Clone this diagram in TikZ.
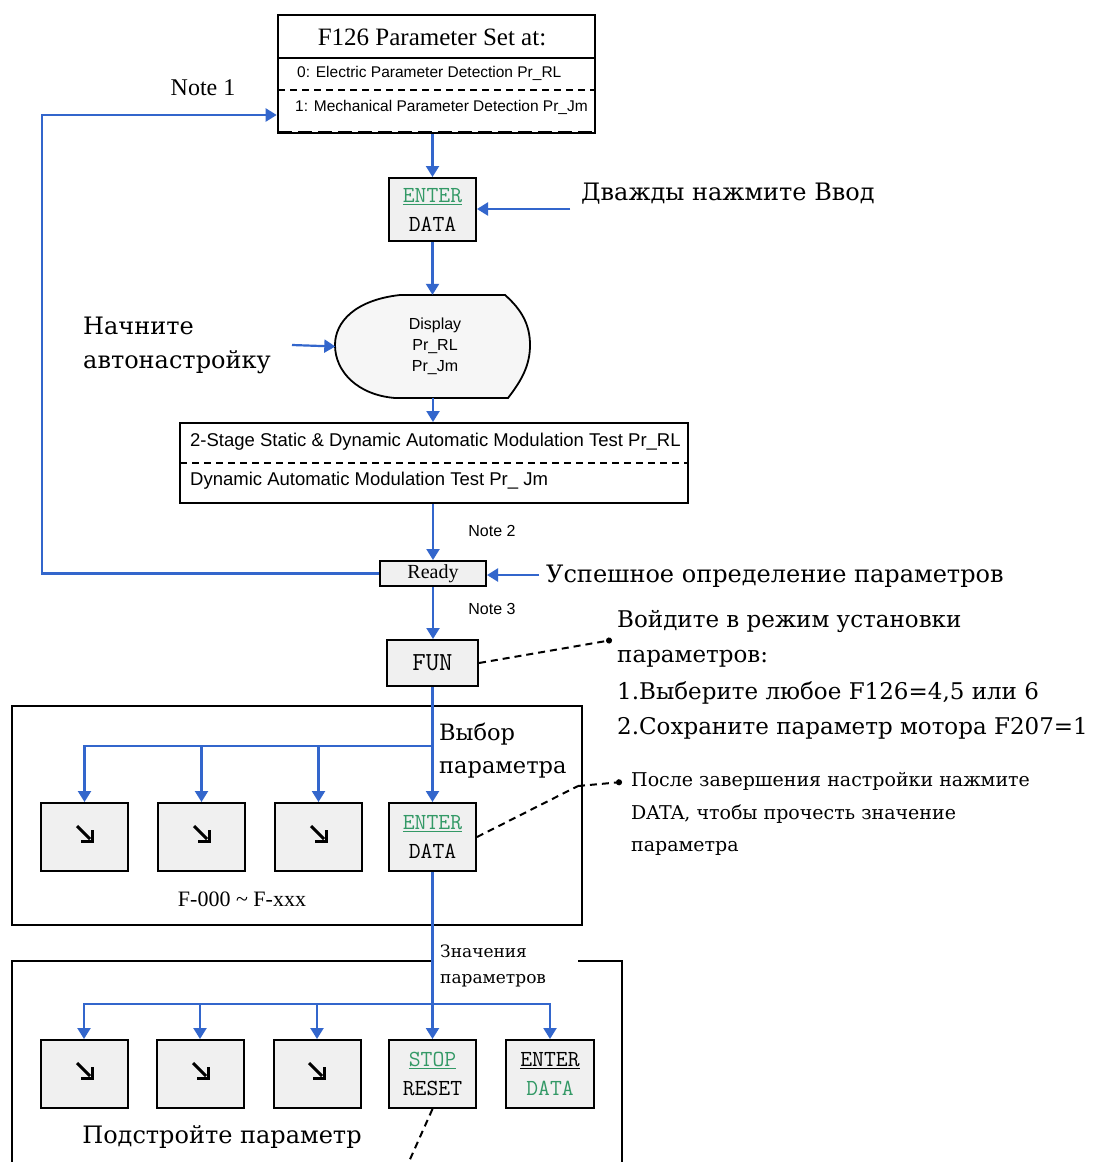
\documentclass[tikz,border=0pt]{standalone}
\usepackage{fontspec}
\setmainfont{Liberation Serif}
\newfontfamily\ru{DejaVu Serif}
\newfontfamily\sans{Liberation Sans}
\usetikzlibrary{arrows.meta}
\definecolor{keygray}{RGB}{240,240,240}
\definecolor{myblue}{RGB}{51,102,204}
\definecolor{keygreen}{RGB}{51,153,102}
\newcommand{\mykey}{\ttfamily\addfontfeature{LetterSpace=8}\fontsize{23}{29}\selectfont}
\begin{document}
\begin{tikzpicture}[x=1pt,y=-1pt,
  arr/.style={draw=myblue, line width=2.2pt, -{Triangle[width=13pt,length=11pt]}},
  keybox/.style={draw, line width=2pt, fill=keygray, inner sep=0pt, minimum width=87pt, minimum height=68pt, align=center, font=\mykey},
  dashlink/.style={draw, dash pattern=on 7pt off 5pt, line width=2pt, -{Circle[length=6pt]}},
  dline/.style={draw, dash pattern=on 7pt off 5pt, line width=2pt},
  lbl/.style={inner sep=0pt},
  dnarrow/.pic={\draw[line width=3pt] (-8,-8) -- (5,5); \draw[line width=3pt, line join=miter] (7,-4) -- (7,7) -- (-4,7);}
]
\useasboundingbox (0,0) rectangle (1106,1162);
\fill[white] (0,0) rectangle (1106,1162);

% top box
\node[draw, line width=2.6pt, minimum width=317pt, minimum height=118pt, inner sep=0pt] (f126) at (436.5,74) {};
\draw[line width=2pt] (278,58) -- (595,58);
\draw[dline] (278,90) -- (595,90);
\draw[dash pattern=on 14pt off 6pt, line width=3pt] (278,132) -- (595,132);
\node[lbl] (t0) at (432,37) {\fontsize{25}{25}\selectfont F126 Parameter Set at:};
\node[lbl, anchor=west] (t1) at (297,73) {\sans\fontsize{15.5}{16}\selectfont 0: Electric Parameter Detection Pr\_RL};
\node[lbl, anchor=west] (t2) at (295,107) {\sans\fontsize{15.5}{16}\selectfont 1: Mechanical Parameter Detection Pr\_Jm};
\node[lbl] (n1) at (203,88) {\fontsize{24}{24}\selectfont Note 1};

% ENTER/DATA 1
\node[keybox, minimum height=63pt] (ed1) at (432.5,209.5) {{\color{keygreen}\underline{ENTER}}\\DATA};
\draw[arr] (ed1.north |- f126.south) -- (ed1.north);
\node[lbl, anchor=west] (dv) at (581,194) {\ru\fontsize{24}{24}\selectfont Дважды нажмите Ввод};
\coordinate (dva) at (570,209);
\draw[arr] (dva) -- (ed1.east |- dva);

% display shape
\node[lbl, minimum width=195pt, minimum height=103pt] (disp) at (433,346.5) {};
\draw[line width=1.8pt, fill=keygray!60] (505,295) -- (400,295) .. controls (355,300) and (335,322) .. (335,345) .. controls (335,372) and (358,395) .. (395,398) -- (508,398) .. controls (522,380) and (530,365) .. (530,345) .. controls (530,325) and (522,310) .. (505,295) -- cycle;
\node[lbl, align=center, font=\sans\fontsize{16}{21}\selectfont] (dtxt) at (435,346) {Display\\Pr\_RL\\Pr\_Jm};
\draw[arr] (ed1.south) -- (ed1.south |- disp.north);
\node[lbl, anchor=west] (st1) at (83,326) {\ru\fontsize{24}{24}\selectfont Начните};
\node[lbl, anchor=west] (st2) at (83,362) {\ru\fontsize{24}{24}\selectfont автонастройку};
\coordinate (sta) at (292,345);
\draw[arr] (sta) -- (disp.west);

% test box
\node[draw, line width=2pt, minimum width=508pt, minimum height=80pt, inner sep=0pt] (test) at (434,463) {};
\draw[dline, line width=2.6pt] (180,463) -- (688,463);
\node[lbl, anchor=west] (te1) at (190,442) {\sans\fontsize{18.5}{19}\selectfont 2-Stage Static \& Dynamic Automatic Modulation Test Pr\_RL};
\node[lbl, anchor=west] (te2) at (190,481) {\sans\fontsize{18.5}{19}\selectfont Dynamic Automatic Modulation Test Pr\_ Jm};
\draw[arr] (disp.south) -- (disp.south |- test.north);

% ready
\node[keybox, minimum width=106pt, minimum height=25pt, font=\fontsize{20}{20}\selectfont] (ready) at (433,573.5) {Ready};
\draw[arr] (ready.north |- test.south) -- (ready.north);
\node[lbl] (n2) at (492,531) {\sans\fontsize{16}{16}\selectfont Note 2};
\node[lbl] (n3) at (492,609) {\sans\fontsize{16}{16}\selectfont Note 3};
\node[lbl, anchor=west] (ok) at (546,576) {\ru\fontsize{24}{24}\selectfont Успешное определение параметров};
\coordinate (oka) at (539,575);
\draw[arr] (oka) -- (ready.east |- oka);
\coordinate (fb) at (42,115);
\draw[arr] (ready.west) -| (fb) -- (f126.west |- fb);

% FUN
\node[keybox, minimum width=91pt, minimum height=46pt, font=\ttfamily\addfontfeature{LetterSpace=10}\fontsize{26}{26}\selectfont] (fun) at (432.5,663) {FUN};
\draw[arr] (ready.south) -- (ready.south |- fun.north);
\coordinate (fe) at (612,640);
\draw[dashlink] (fun.east) -- (fe);
\node[lbl, anchor=west] (w1) at (617,621) {\ru\fontsize{23}{23}\selectfont Войдите в режим установки};
\node[lbl, anchor=west] (w2) at (617,659) {\ru\fontsize{23}{23}\selectfont параметров:};
\node[lbl, anchor=west] (w3) at (617,693) {\ru\fontsize{23}{23}\selectfont 1.Выберите любое F126=4,5 или 6};
\node[lbl, anchor=west] (w4) at (617,728) {\ru\fontsize{23}{23}\selectfont 2.Сохраните параметр мотора F207=1};

% group 1
\node[draw, line width=2pt, minimum width=570pt, minimum height=219pt, inner sep=0pt] (grp1) at (297,815.5) {};
\node[keybox] (k11) at (84.5,837) {};
\node[keybox] (k12) at (201.5,837) {};
\node[keybox] (k13) at (318.5,837) {};
\pic at (85,834) {dnarrow};
\pic at (202,834) {dnarrow};
\pic at (319,834) {dnarrow};
\node[keybox] (ed2) at (432.5,837) {{\color{keygreen}\underline{ENTER}}\\DATA};
\coordinate (b1) at (432,746);
\draw[arr] (fun.south) -- (ed2.north);
\draw[arr] (b1) -| (k11.north);
\draw[arr] (b1) -| (k12.north);
\draw[arr] (b1) -| (k13.north);
\node[lbl, anchor=west] (vb1) at (439,734) {\ru\fontsize{22.5}{24}\selectfont Выбор};
\node[lbl, anchor=west] (vb2) at (439,770) {\ru\fontsize{22.5}{24}\selectfont параметра};
\node[lbl] (frange) at (242,899) {\fontsize{22}{22}\selectfont F-000 \textasciitilde\ F-xxx};
\coordinate (pe1) at (578,786);
\coordinate (pe2) at (622,782);
\draw[dline] (ed2.east) -- (pe1);
\draw[dashlink] (pe1) -- (pe2);
\node[lbl, anchor=west] (p1) at (631,781) {\ru\fontsize{19}{19}\selectfont После завершения настройки нажмите};
\node[lbl, anchor=west] (p2) at (631,814) {\ru\fontsize{19}{19}\selectfont DATA, чтобы прочесть значение};
\node[lbl, anchor=west] (p3) at (631,848) {\ru\fontsize{19}{19}\selectfont параметра};

% group 2
\draw[line width=2pt] (434,961) -- (12,961) -- (12,1175);
\draw[line width=2pt] (578,961) -- (622,961) -- (622,1175);
\node[lbl, anchor=west] (z1) at (440,951) {\ru\fontsize{17}{17}\selectfont Значения};
\node[lbl, anchor=west] (z2) at (440,981) {\ru\fontsize{17}{17}\selectfont параметров};
\node[keybox] (k21) at (84,1074) {};
\node[keybox] (k22) at (200,1074) {};
\node[keybox] (k23) at (317,1074) {};
\pic at (85,1071) {dnarrow};
\pic at (201,1071) {dnarrow};
\pic at (317,1071) {dnarrow};
\node[keybox] (stop) at (432.5,1074) {{\color{keygreen}\underline{STOP}}\\RESET};
\node[keybox, minimum width=88pt] (ed3) at (550,1074) {\underline{ENTER}\\{\color{keygreen}DATA}};
\coordinate (b2) at (432,1004);
\draw[arr] (ed2.south) -- (stop.north);
\draw[arr] (b2) -| (k21.north);
\draw[arr] (b2) -| (k22.north);
\draw[arr] (b2) -| (k23.north);
\draw[arr] (b2) -| (ed3.north);
\node[lbl] (adj) at (222,1137) {\ru\fontsize{24}{24}\selectfont Подстройте параметр};
\coordinate (se) at (403,1175);
\draw[dline] (stop.south) -- (se);
\end{tikzpicture}
\end{document}
